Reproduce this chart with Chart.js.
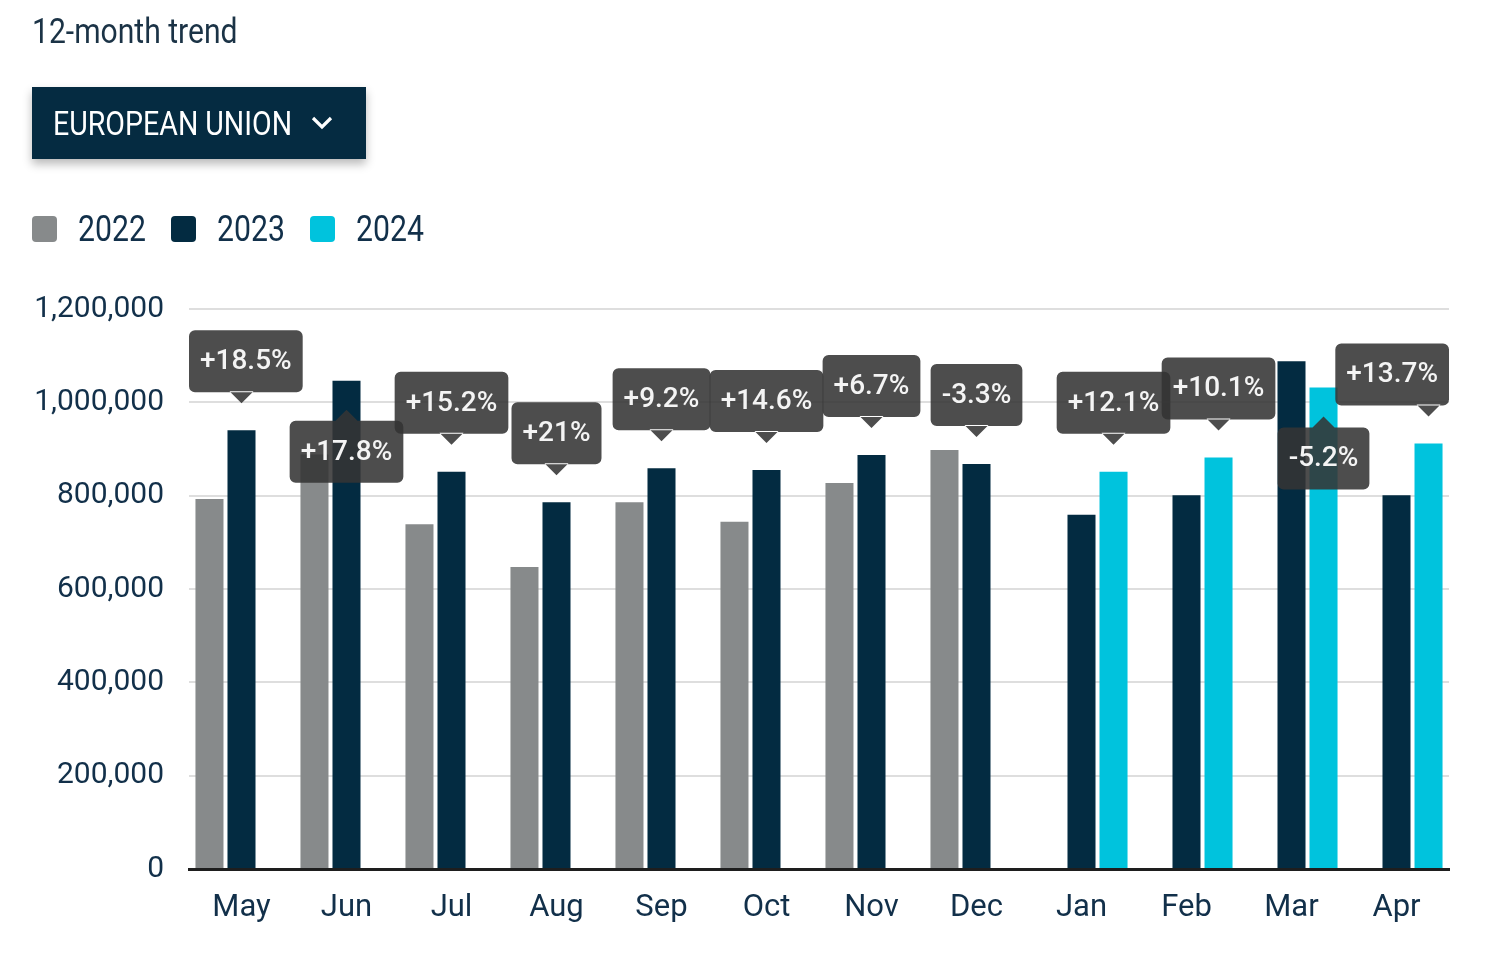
<!DOCTYPE html>
<html>
<head>
<meta charset="utf-8">
<script src="https://cdn.jsdelivr.net/npm/chart.js@4.4.1/dist/chart.umd.min.js"></script>
<style>
  html, body { margin: 0; padding: 0; background: #fff; }
  #wrap { position: relative; width: 1500px; height: 972px; overflow: hidden; }
  #chart-box { position: absolute; left: 0; top: 0; width: 1500px; height: 972px; }
  .cond { display: inline-block; transform-origin: left center; white-space: nowrap; }
  #title { position: absolute; left: 32px; top: 11px; font-family: Roboto, sans-serif; font-size: 35px; color: #1b3346; }
  #title .cond { transform: scaleX(0.86); }
  #picker { position: absolute; left: 32px; top: 87px; width: 334px; height: 72px; background: #052b41;
            box-shadow: 0 5px 9px rgba(0,0,0,0.28); color: #fff; font-family: Roboto, sans-serif; }
  #picker .cond { position: absolute; left: 21px; top: 16px; font-size: 34px; transform: scaleX(0.84); }
  #legend { position: absolute; left: 32px; top: 209px; font-family: Roboto, sans-serif; font-size: 36px; color: #12304a; }
  .item { position: absolute; top: 0; height: 40px; }
  .sw { position: absolute; left: 0; top: 7px; width: 25px; height: 26px; border-radius: 4px; }
  .item .cond { position: absolute; left: 46px; top: -1px; transform: scaleX(0.84); }
</style>
</head>
<body>
<div id="wrap">
  <div id="chart-box"><canvas id="trend-chart"></canvas></div>
  <div id="title"><span class="cond">12-month trend</span></div>
  <div id="picker"><span class="cond">EUROPEAN UNION</span></div>
  <svg style="position:absolute;left:310px;top:114px" width="24" height="18" viewBox="0 0 24 18">
    <polyline points="3,4 12,13 21,4" fill="none" stroke="#fff" stroke-width="3.2"/>
  </svg>
  <div id="legend"></div>
</div>
<script>
// --- dados ---
const months = ['May', 'Jun', 'Jul', 'Aug', 'Sep', 'Oct', 'Nov', 'Dec', 'Jan', 'Feb', 'Mar', 'Apr'];
const years = ['2022', '2023', '2024'];
const values2022 = [793000, 888000, 739000, 647000, 786000, 744000, 827000, 898000, null, null, null, null];
const values2023 = [940000, 1046000, 851000, 786000, 859000, 855000, 887000, 868000, 759000, 801000, 1088000, 801000];
const values2024 = [null, null, null, null, null, null, null, null, 851000, 882000, 1032000, 912000];
const changeText = ['+18.5%', '+17.8%', '+15.2%', '+21%', '+9.2%', '+14.6%', '+6.7%', '-3.3%', '+12.1%', '+10.1%', '-5.2%', '+13.7%'];
const labelsBelow = ['Jun', 'Mar'];
const yTicks = [0, 200000, 400000, 600000, 800000, 1000000, 1200000];

const colors = ['#878a8b', '#032b41', '#00c3dd'];

// legenda em HTML
const legend = document.getElementById('legend');
years.forEach((year, i) => {
    const div = document.createElement('div');
    div.className = 'item';
    div.style.left = (i * 139) + 'px';
    div.innerHTML = `<span class="sw" style="background:${colors[i]}"></span><span class="cond">${year}</span>`;
    legend.appendChild(div);
});

// caixas de variação percentual sobre as barras
const changeBoxes = {
    id: 'changeBoxes',
    afterDatasetsDraw(chart) {
        const ctx = chart.ctx;
        const area = chart.chartArea;
        ctx.save();
        ctx.font = '500 28px Roboto, sans-serif';
        months.forEach((m, i) => {
            const dsIndex = values2024[i] !== null ? 2 : 1;
            const bar = chart.getDatasetMeta(dsIndex).data[i];
            if (!bar) return;
            const text = changeText[i];
            const w = ctx.measureText(text).width + 22;
            const h = 62;
            const below = labelsBelow.includes(m);
            let bx = bar.x - w / 2;
            bx = Math.max(area.left, Math.min(bx, area.right - w));
            let tipY, by;
            if (below) {
                tipY = bar.y + 29;
                by = tipY + 11;
            } else {
                tipY = bar.y - 27;
                by = tipY - 11 - h;
            }
            ctx.beginPath();
            ctx.roundRect(bx, by, w, h, 6);
            if (below) {
                ctx.moveTo(bar.x - 12, by + 1);
                ctx.lineTo(bar.x, tipY);
                ctx.lineTo(bar.x + 12, by + 1);
            } else {
                ctx.moveTo(bar.x - 12, by + h - 1);
                ctx.lineTo(bar.x, tipY);
                ctx.lineTo(bar.x + 12, by + h - 1);
            }
            ctx.closePath();
            ctx.fillStyle = 'rgba(52, 52, 52, 0.88)';
            ctx.fill();
            ctx.fillStyle = '#f4f4f4';
            ctx.textAlign = 'center';
            ctx.textBaseline = 'middle';
            ctx.fillText(text, bx + w / 2, by + h / 2 + 1);
        });
        ctx.restore();
    }
};

const ctx = document.getElementById('trend-chart').getContext('2d');
new Chart(ctx, {
    type: 'bar',
    data: {
        labels: months,
        datasets: [
            { label: years[0], data: values2022, backgroundColor: colors[0] },
            { label: years[1], data: values2023, backgroundColor: colors[1] },
            { label: years[2], data: values2024, backgroundColor: colors[2] }
        ]
    },
    options: {
        responsive: true,
        maintainAspectRatio: false,
        animation: false,
        datasets: { bar: { categoryPercentage: 0.915, barPercentage: 0.875 } },
        layout: { padding: { top: 309, right: 51, bottom: 0, left: 0 } },
        plugins: { legend: { display: false }, tooltip: { enabled: false } },
        scales: {
            x: {
                grid: { display: false },
                border: { color: '#1e1e1e', width: 3 },
                ticks: { color: '#12304a', padding: 13, font: { family: 'Roboto', size: 31 } },
                afterFit: (scale) => { scale.height = 103; }
            },
            y: {
                min: 0,
                max: 1200000,
                border: { display: false },
                grid: { color: '#dedede', lineWidth: 2, drawTicks: false },
                afterBuildTicks: (scale) => { scale.ticks = yTicks.map(v => ({ value: v })); },
                ticks: {
                    color: '#12304a',
                    padding: 25,
                    font: { family: 'Roboto', size: 30 },
                    callback: (v) => v.toLocaleString('en-US')
                },
                afterFit: (scale) => { scale.width = 189; }
            }
        }
    },
    plugins: [changeBoxes]
});
</script>
</body>
</html>
